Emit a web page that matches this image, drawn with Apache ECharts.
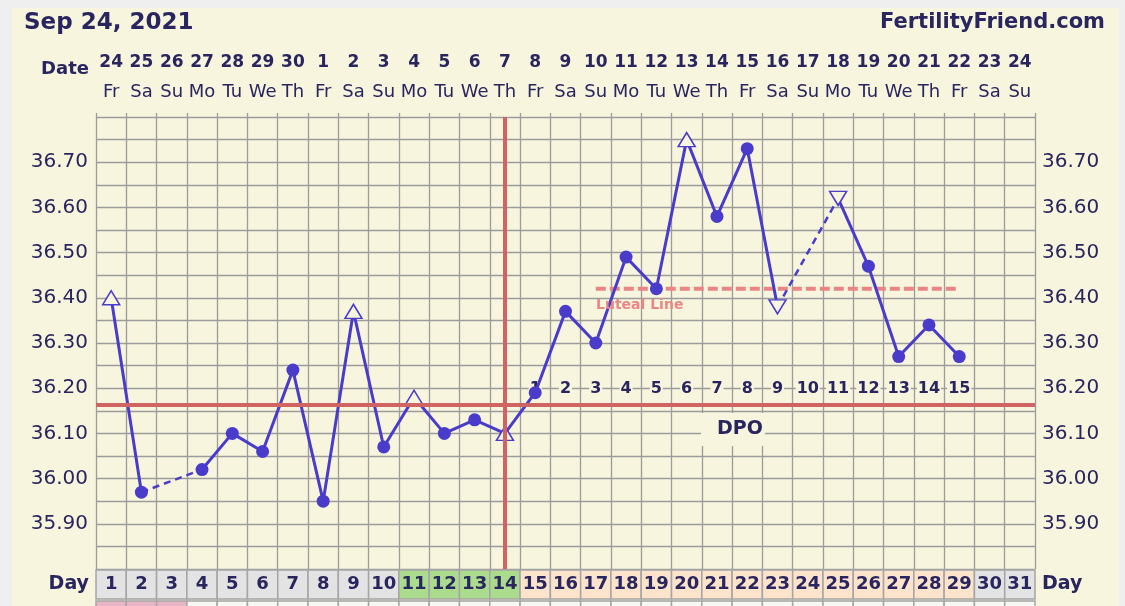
<!DOCTYPE html>
<html><head><meta charset="utf-8">
<script src="https://cdn.jsdelivr.net/npm/echarts@6/dist/echarts.min.js"></script>
<style>
html,body{margin:0;padding:0;background:#efefef;width:1125px;height:606px;overflow:hidden}
#c{position:absolute;left:12px;top:8px;width:1107px;height:598px}
</style></head><body><div id="c"></div>
<script>
// ---- data ----
const dayNums = [1,2,3,4,5,6,7,8,9,10,11,12,13,14,15,16,17,18,19,20,21,22,23,24,25,26,27,28,29,30,31];
const dateNums = ['24','25','26','27','28','29','30','1','2','3','4','5','6','7','8','9','10','11','12','13','14','15','16','17','18','19','20','21','22','23','24'];
const weekDays = ['Fr','Sa','Su','Mo','Tu','We','Th','Fr','Sa','Su','Mo','Tu','We','Th','Fr','Sa','Su','Mo','Tu','We','Th','Fr','Sa','Su','Mo','Tu','We','Th','Fr','Sa','Su'];
const temps = [36.40,35.97,null,36.02,36.10,36.06,36.24,35.95,36.37,36.07,36.18,36.10,36.13,36.10,36.19,36.37,36.30,36.49,36.42,36.75,36.58,36.73,36.38,null,36.62,36.47,36.27,36.34,36.27,null,null];
const markers = ['up','dot',null,'dot','dot','dot','dot','dot','up','dot','up','dot','dot','up','dot','dot','dot','dot','dot','up','dot','dot','down',null,'down','dot','dot','dot','dot',null,null];
const dayCellColors = ['#e3e3e3','#e3e3e3','#e3e3e3','#e3e3e3','#e3e3e3','#e3e3e3','#e3e3e3','#e3e3e3','#e3e3e3','#e3e3e3','#abdc8e','#abdc8e','#abdc8e','#abdc8e','#fbe3cc','#fbe3cc','#fbe3cc','#fbe3cc','#fbe3cc','#fbe3cc','#fbe3cc','#fbe3cc','#fbe3cc','#fbe3cc','#fbe3cc','#fbe3cc','#fbe3cc','#fbe3cc','#fbe3cc','#e3e3e3','#e3e3e3'];
const flowCellColors = ['#e8b5c7','#e8b5c7','#e8b5c7','#f7f7f4','#f7f7f4','#f7f7f4','#f7f7f4','#f7f7f4','#f7f7f4','#f7f7f4','#f7f7f4','#f7f7f4','#f7f7f4','#f7f7f4','#f7f7f4','#f7f7f4','#f7f7f4','#f7f7f4','#f7f7f4','#f7f7f4','#f7f7f4','#f7f7f4','#f7f7f4','#f7f7f4','#f7f7f4','#f7f7f4','#f7f7f4','#f7f7f4','#f7f7f4','#f7f7f4','#f7f7f4'];
const dpoDays = [15,16,17,18,19,20,21,22,23,24,25,26,27,28,29];
const dpoLabels = ['1','2','3','4','5','6','7','8','9','10','11','12','13','14','15'];
const dpoRowValue = 36.20;
const coverline = 36.164;
const ovulationDay = 14;
const lutealLine = 36.42;
const lutealStart = 17, lutealEnd = 29;
const yTickLabels = ['35.90','36.00','36.10','36.20','36.30','36.40','36.50','36.60','36.70'];

// ---- styles ----
const FONT = '"DejaVu Sans", Verdana, sans-serif';
const NAVY = '#29255e';
const BLUE = '#4a3cca';
const CREAM = '#f7f5dd';
const GRID = '#9c9c9c';

function symbolFor(m) {
  if (m === 'dot') return {symbol:'circle', symbolSize:13, itemStyle:{color:BLUE, borderColor:BLUE, borderWidth:0}};
  if (m === 'up') return {symbol:'triangle', symbolSize:[17,14], symbolRotate:0, itemStyle:{color:CREAM, borderColor:BLUE, borderWidth:1.5}};
  if (m === 'down') return {symbol:'triangle', symbolSize:[17,14], symbolRotate:180, itemStyle:{color:CREAM, borderColor:BLUE, borderWidth:1.5}};
  return {symbol:'none'};
}
const mainData = temps.map((v,i) => v == null ? null : Object.assign({value:v}, symbolFor(markers[i])));

// dashed bridges across missing days
const bridges = [];
for (let i = 1; i < temps.length; i++) {
  if (temps[i] == null && temps[i-1] != null) {
    let j = i; while (j < temps.length && temps[j] == null) j++;
    if (j < temps.length) {
      const d = temps.map(() => null); d[i-1] = temps[i-1]; d[j] = temps[j];
      bridges.push(d);
    }
  }
}

function cellRender(colors, texts) {
  return function(params, api) {
    const i = api.value(0);
    const top = api.coord([i, 1]);
    const bot = api.coord([i, 0]);
    const w = api.size([1, 0])[0];
    const el = {type:'rect', shape:{x: top[0]-w/2, y: top[1], width: w, height: bot[1]-top[1]},
      style:{fill: colors[i], stroke:'#a5a5a5', lineWidth:1.5}};
    if (texts) {
      el.textContent = {style:{text: String(texts[i]), font: 'bold 18px ' + FONT, fill: NAVY}};
      el.textConfig = {position:'inside'};
    }
    return el;
  };
}

function dpoRender(params, api) {
  const p = api.coord([api.value(0), api.value(1)]);
  const k = params.dataIndex;
  return {type:'text', x: p[0], y: p[1] + 1,
    style:{text: dpoLabels[k], font:'bold 16px ' + FONT, fill: NAVY,
      align:'center', verticalAlign:'middle', backgroundColor: CREAM, padding:[0,1]}};
}

const cats = dayNums.map(String);
const chart = echarts.init(document.getElementById('c'), null, {renderer:'canvas'});
const option = {
  backgroundColor: CREAM,
  animation: false,
  grid: [
    {left:84, top:109, width:939, height:452},
    {left:84, top:562, width:939, height:29},
    {left:84, top:593, width:939, height:30}
  ],
  xAxis: [
    {type:'category', gridIndex:0, data:cats, position:'bottom', boundaryGap:true,
     axisLine:{show:false}, axisTick:{show:false}, axisLabel:{show:false},
     splitLine:{show:true, interval:0, lineStyle:{color:GRID, width:1.3}}},
    {type:'category', gridIndex:0, data:dateNums, position:'top', boundaryGap:true,
     axisLine:{show:false}, axisTick:{show:true, interval:0, length:4, lineStyle:{color:GRID, width:1.3}},
     axisLabel:{interval:0, margin:46, fontFamily:FONT, fontWeight:'bold', fontSize:17, color:NAVY},
     splitLine:{show:false}},
    {type:'category', gridIndex:0, data:weekDays, position:'top', boundaryGap:true,
     axisLine:{show:false}, axisTick:{show:false},
     axisLabel:{interval:0, margin:16, fontFamily:FONT, fontSize:18, color:NAVY},
     splitLine:{show:false}},
    {type:'category', gridIndex:1, data:cats, show:false, boundaryGap:true},
    {type:'category', gridIndex:2, data:cats, show:false, boundaryGap:true}
  ],
  yAxis: [
    {type:'value', gridIndex:0, min:35.8, max:36.8, interval:0.05, position:'left',
     axisLine:{show:false}, axisTick:{show:false},
     axisLabel:{margin:8, fontFamily:FONT, fontSize:20, color:NAVY,
       formatter: v => { const s = v.toFixed(2); return yTickLabels.includes(s) ? s : ''; }},
     splitLine:{show:true, lineStyle:{color:GRID, width:1.3}}},
    {type:'value', gridIndex:0, min:35.8, max:36.8, interval:0.05, position:'right',
     axisLine:{show:false}, axisTick:{show:false},
     axisLabel:{margin:7, fontFamily:FONT, fontSize:20, color:NAVY,
       formatter: v => { const s = v.toFixed(2); return yTickLabels.includes(s) ? s : ''; }},
     splitLine:{show:false}},
    {type:'value', gridIndex:1, min:0, max:1, show:false},
    {type:'value', gridIndex:2, min:0, max:1, show:false}
  ],
  series: [
    {type:'line', xAxisIndex:0, yAxisIndex:0, data:[], z:1, silent:true,
     markLine:{silent:true, symbol:'none', label:{show:false}, animation:false, precision:3,
       data:[
         {yAxis: coverline, lineStyle:{color:'#cf6462', width:4, type:'solid'}},
         {xAxis: ovulationDay - 1, lineStyle:{color:'#cf6462', width:4, type:'solid'}}
       ]}},
    {type:'line', xAxisIndex:0, yAxisIndex:0, z:2, symbol:'none', silent:true,
     data: dayNums.map((d,i) => (d >= lutealStart && d <= lutealEnd) ? lutealLine : null),
     connectNulls:false, lineStyle:{color:'#ea8585', width:4, type:[10,4]}},
    {type:'custom', xAxisIndex:0, yAxisIndex:0, z:2, silent:true,
     data: dpoDays.map((d,k) => [d-1, dpoRowValue]), encode:{x:0, y:1},
     renderItem: dpoRender},
    ...bridges.map(b => ({type:'line', xAxisIndex:0, yAxisIndex:0, z:3, symbol:'none', silent:true,
      data:b, connectNulls:true, lineStyle:{color:BLUE, width:2.5, type:[7,5]}})),
    {type:'line', xAxisIndex:0, yAxisIndex:0, z:4, data: mainData, connectNulls:false, silent:true,
     showSymbol:true, showAllSymbol:true, lineStyle:{color:BLUE, width:3}, itemStyle:{color:BLUE}},
    {type:'custom', xAxisIndex:3, yAxisIndex:2, silent:true,
     data: dayNums.map((d,i) => [i, 0.5]), encode:{x:0, y:1},
     renderItem: cellRender(dayCellColors, dayNums)},
    {type:'custom', xAxisIndex:4, yAxisIndex:3, silent:true,
     data: dayNums.map((d,i) => [i, 0.5]), encode:{x:0, y:1},
     renderItem: cellRender(flowCellColors, null)}
  ],
  graphic: [
    {type:'text', x:12, y:15, style:{text:'Sep 24, 2021', font:'bold 23px ' + FONT, fill:NAVY, align:'left', verticalAlign:'middle'}},
    {type:'text', x:1093, y:15, style:{text:'FertilityFriend.com', font:'bold 21px ' + FONT, fill:NAVY, align:'right', verticalAlign:'middle'}},
    {type:'text', x:77, y:61, style:{text:'Date', font:'bold 18px ' + FONT, fill:NAVY, align:'right', verticalAlign:'middle'}},
    {type:'text', x:77, y:576, style:{text:'Day', font:'bold 19px ' + FONT, fill:NAVY, align:'right', verticalAlign:'middle'}},
    {type:'text', x:1030, y:576, style:{text:'Day', font:'bold 19px ' + FONT, fill:NAVY, align:'left', verticalAlign:'middle'}},
    {type:'text', x:584, y:297, z:5, style:{text:'Luteal Line', font:'bold 14px ' + FONT, fill:'#e98686', align:'left', verticalAlign:'middle'}},
    {type:'rect', x:689, y:405, z:5, shape:{width:64, height:33}, style:{fill:CREAM}},
    {type:'text', x:728, y:421, z:6, style:{text:'DPO', font:'bold 19px ' + FONT, fill:NAVY, align:'center', verticalAlign:'middle'}}
  ]
};
chart.setOption(option);
</script>
</body></html>
